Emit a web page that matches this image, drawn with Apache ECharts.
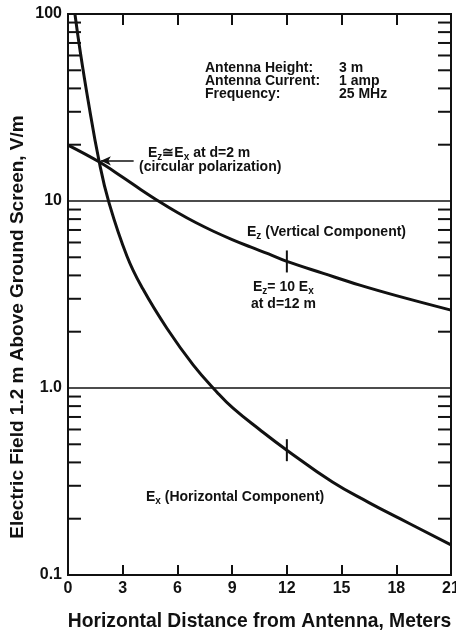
<!DOCTYPE html>
<html>
<head>
<meta charset="utf-8">
<script src="https://cdn.jsdelivr.net/npm/echarts@6/dist/echarts.min.js"></script>
<style>
  html, body { margin: 0; padding: 0; background: #fff; }
  #chart { width: 456px; height: 640px; }
</style>
</head>
<body>
<div id="chart"></div>
<script>
// horizontal component
const exDistance = [0.38, 0.66, 1.1, 1.7, 2.25, 3.24, 4.11, 5.43, 6.86, 8.17, 9.05, 10.5, 12, 14.5, 16.5, 18.2, 21];
const exField = [100, 64, 34.6, 16.4, 9.77, 5.05, 3.38, 2.08, 1.33, 0.95, 0.78, 0.6, 0.465, 0.314, 0.244, 0.2, 0.145];

// vertical component
const ezDistance = [0, 1.7, 3, 4, 5, 6, 7, 8, 9, 10, 11, 12, 14, 16, 18, 21];
const ezField = [19.9, 16.2, 13.4, 11.5, 9.94, 8.68, 7.67, 6.87, 6.22, 5.68, 5.21, 4.75, 4.1, 3.55, 3.12, 2.61];

// short marks at d = 12 m on both curves
const markDistance = [12, 12];
const markField = [4.75, 0.465];

// minor ticks drawn inside the left and right frame
const minorTicks = [];
[0.1, 1, 10].forEach(function (d) {
  for (let k = 2; k <= 9; k++) minorTicks.push(+(d * k).toPrecision(3));
});

const yLabels = { 0.1: "0.1", 1: "1.0", 10: "10", 100: "100" };

const font = "Liberation Sans";
const ink = "#111";

const chart = echarts.init(document.getElementById("chart"));

function txt(x, y, rich) {
  return {
    type: "text",
    x: x,
    y: y,
    style: {
      text: rich,
      fontFamily: font,
      fontSize: 14,
      fontWeight: "bold",
      fill: ink,
      verticalAlign: "middle",
      rich: {
        s: { fontFamily: font, fontSize: 10, fontWeight: "bold", fill: ink, padding: [8, 0, 0, 0] },
      },
    },
  };
}

chart.setOption({
  backgroundColor: "#fff",
  animation: false,
  grid: {
    left: 68,
    right: 5,
    top: 14,
    bottom: 65,
    outerBoundsMode: "none",
    show: true,
    borderColor: ink,
    borderWidth: 2,
  },
  xAxis: [
    {
      type: "value",
      min: 0,
      max: 21,
      interval: 3,
      position: "bottom",
      axisLine: { show: false },
      axisTick: { show: true, inside: true, length: 10, lineStyle: { color: ink, width: 2 } },
      axisLabel: { color: ink, fontFamily: font, fontSize: 16, fontWeight: "bold", margin: 6 },
      splitLine: { show: false },
      name: "Horizontal Distance from Antenna, Meters",
      nameLocation: "middle",
      nameGap: 37,
      nameTextStyle: { color: ink, fontFamily: font, fontSize: 19.3, fontWeight: "bold" },
    },
    {
      type: "value",
      min: 0,
      max: 21,
      interval: 3,
      position: "top",
      axisLine: { show: false },
      axisTick: { show: true, inside: true, length: 11, lineStyle: { color: ink, width: 2 } },
      axisLabel: { show: false },
      splitLine: { show: false },
    },
  ],
  yAxis: {
    type: "log",
    logBase: 10,
    min: 0.1,
    max: 100,
    axisLine: { show: false },
    axisTick: { show: false },
    axisLabel: {
      color: ink,
      fontFamily: font,
      fontSize: 16,
      fontWeight: "bold",
      margin: 6,
      formatter: function (v) {
        return yLabels[+v.toPrecision(3)] || "";
      },
    },
    splitLine: { show: true, lineStyle: { color: ink, width: 1.6 } },
  },
  series: [
    {
      name: "Ez",
      type: "line",
      smooth: 0.4,
      showSymbol: false,
      lineStyle: { color: ink, width: 3 },
      data: ezDistance.map(function (d, i) { return [d, ezField[i]]; }),
      markLine: {
        silent: true,
        symbol: ["none", "arrow"],
        symbolSize: [7, 10],
        label: { show: false },
        lineStyle: { color: ink, width: 1.5, type: "solid" },
        data: [[{ coord: [3.6, 16.4] }, { coord: [1.8, 16.4] }]],
      },
    },
    {
      name: "Ex",
      type: "line",
      smooth: 0.45,
      showSymbol: false,
      lineStyle: { color: ink, width: 3 },
      data: exDistance.map(function (d, i) { return [d, exField[i]]; }),
    },
    {
      name: "marks",
      type: "custom",
      data: markDistance.map(function (d, i) { return [d, markField[i]]; }),
      renderItem: function (params, api) {
        const p = api.coord([api.value(0), api.value(1)]);
        return {
          type: "line",
          shape: { x1: p[0], y1: p[1] - 11, x2: p[0], y2: p[1] + 11 },
          style: { stroke: ink, lineWidth: 2 },
        };
      },
    },
    {
      name: "minor ticks",
      type: "custom",
      data: minorTicks.map(function (v) { return [0, v]; }),
      renderItem: function (params, api) {
        const l = api.coord([0, api.value(1)]);
        const r = api.coord([21, api.value(1)]);
        return {
          type: "group",
          children: [
            { type: "line", shape: { x1: l[0], y1: l[1], x2: l[0] + 13, y2: l[1] }, style: { stroke: ink, lineWidth: 2 } },
            { type: "line", shape: { x1: r[0] - 13, y1: r[1], x2: r[0], y2: r[1] }, style: { stroke: ink, lineWidth: 2 } },
          ],
        };
      },
    },
  ],
  graphic: [
    {
      type: "text",
      x: 18,
      y: 327,
      rotation: Math.PI / 2,
      style: {
        text: "Electric Field 1.2 m Above Ground Screen, V/m",
        fontFamily: font,
        fontSize: 19,
        fontWeight: "bold",
        fill: ink,
        align: "center",
        verticalAlign: "middle",
      },
    },
    txt(205, 68, "Antenna Height:"),
    txt(205, 81, "Antenna Current:"),
    txt(205, 94, "Frequency:"),
    txt(339, 68, "3 m"),
    txt(339, 81, "1 amp"),
    txt(339, 94, "25 MHz"),
    txt(148, 153, "E{s|z}≅E{s|x} at d=2 m"),
    txt(139, 167, "(circular polarization)"),
    txt(247, 232, "E{s|z} (Vertical Component)"),
    txt(253, 287, "E{s|z}= 10 E{s|x}"),
    txt(251, 304, "at d=12 m"),
    txt(146, 497, "E{s|x} (Horizontal Component)"),
  ],
});
</script>
</body>
</html>
